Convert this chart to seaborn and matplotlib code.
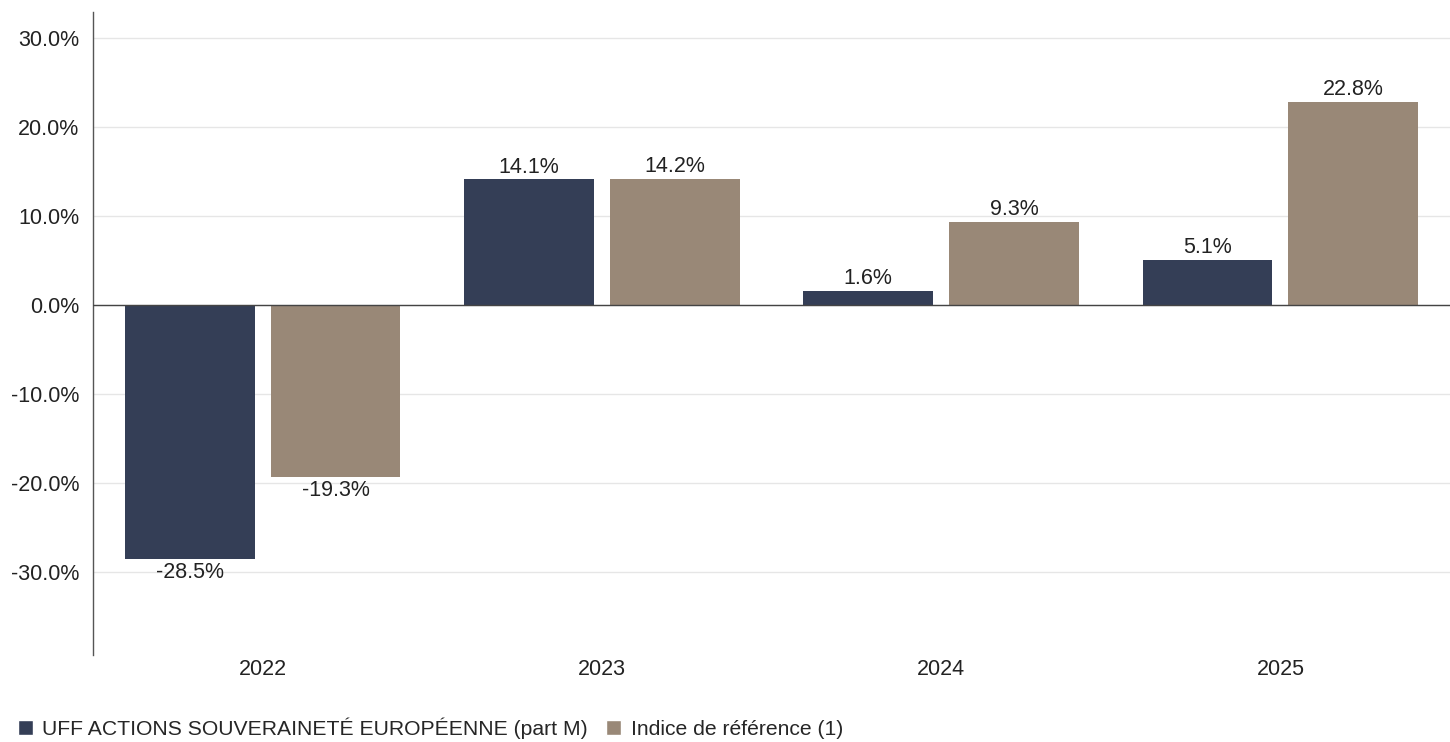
import numpy as np
import pandas as pd
import seaborn as sns
import matplotlib.pyplot as plt
from matplotlib.patches import Patch

years = ["2022", "2023", "2024", "2025"]
fund = [-28.5, 14.1, 1.6, 5.1]
index = [-19.3, 14.2, 9.3, 22.8]
series_names = ["UFF ACTIONS SOUVERAINETÉ EUROPÉENNE (part M)", "Indice de référence (1)"]
colors = ["#343e56", "#998877"]

df = pd.DataFrame({
    "year": years * 2,
    "value": fund + index,
    "serie": [series_names[0]] * 4 + [series_names[1]] * 4,
})

sns.set_style("white")
plt.rcParams["font.family"] = ["Liberation Sans", "DejaVu Sans"]

fig = plt.figure(figsize=(14.5, 7.42), dpi=100)
ax = fig.add_axes([93 / 1450, 87 / 742, 1357 / 1450, 643 / 742])

sns.barplot(data=df, x="year", y="value", hue="serie", palette=colors,
            width=0.86, gap=0.11, saturation=1, legend=False, ax=ax, zorder=3,
            linewidth=0)

for cont in ax.containers:
    for bar in cont:
        h = bar.get_height()
        x = bar.get_x() + bar.get_width() / 2
        if h >= 0:
            ax.text(x, h + 0.2, f"{h:.1f}%", ha="center", va="bottom", fontsize=15.5, color="#222222")
        else:
            ax.text(x, h - 0.4, f"{h:.1f}%", ha="center", va="top", fontsize=15.5, color="#222222")

ax.set_ylim(-39.3, 32.9)
ax.set_xlim(-0.5, 3.5)
ax.set_yticks([-30, -20, -10, 0, 10, 20, 30])
ax.set_yticklabels([f"{v:.1f}%" for v in [-30, -20, -10, 0, 10, 20, 30]])
ax.grid(axis="y", color="#e6e6e6", linewidth=1, zorder=0)
ax.axhline(0, color="#444444", linewidth=1, zorder=4)
ax.set_xlabel("")
ax.set_ylabel("")
ax.tick_params(axis="both", length=0, labelsize=15.5, colors="#222222")
ax.tick_params(axis="y", pad=10)
ax.tick_params(axis="x", pad=3)
for s in ["top", "right", "bottom"]:
    ax.spines[s].set_visible(False)
ax.spines["left"].set_color("#555555")
ax.spines["left"].set_linewidth(1)

# legend at the bottom left, square markers
handles = [Patch(facecolor=c, label=n) for c, n in zip(colors, series_names)]
fig.legend(handles=handles, loc="lower left", bbox_to_anchor=(-0.001, -0.022), ncol=2,
           frameon=False, fontsize=15.2, handlelength=0.71, handleheight=0.71,
           handletextpad=0.47, columnspacing=0.85)

plt.savefig("out.png", dpi=100)
